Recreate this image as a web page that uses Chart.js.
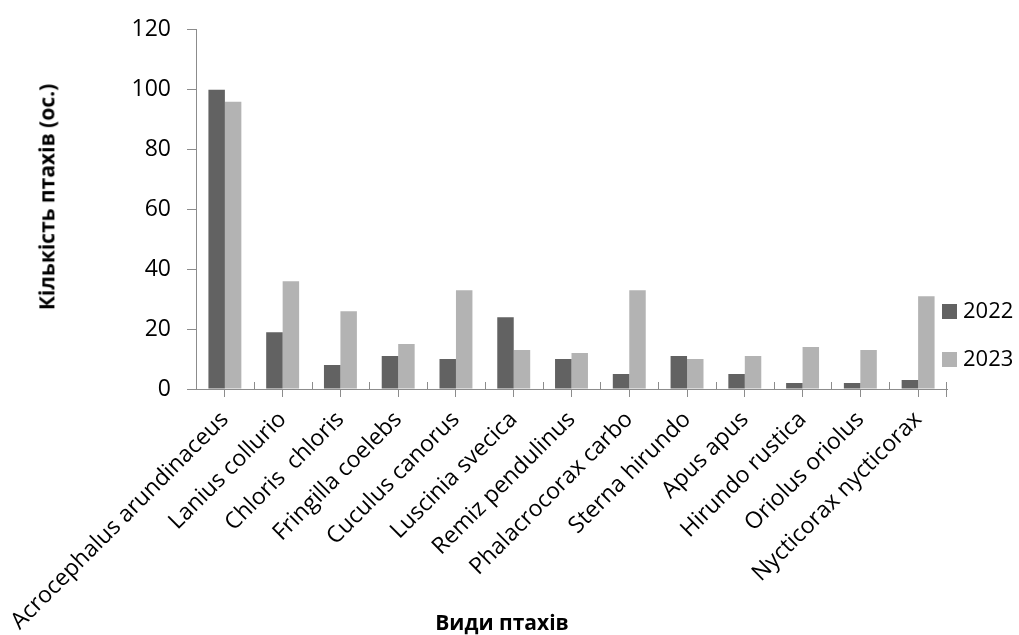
<!DOCTYPE html>
<html>
<head>
<meta charset="utf-8">
<script src="https://cdn.jsdelivr.net/npm/chart.js@4/dist/chart.umd.min.js"></script>
<style>
  body { margin: 0; background: #fff; font-family: "Open Sans", sans-serif; }
  #wrap { position: relative; width: 1019px; height: 635px; }
  #xTitle { position: absolute; left: 502px; top: 608px; transform: translateX(-50%);
    font-weight: bold; font-size: 21px; color: #000; white-space: nowrap; }
  #yTitle { position: absolute; left: 47px; top: 197px; transform: translate(-50%, -50%) rotate(-90deg);
    font-weight: bold; font-size: 21px; color: #000; white-space: nowrap; line-height: 1.2; }
  .leg { position: absolute; left: 942px; font-size: 22px; color: #000; line-height: 1; }
  .leg span { display: inline-block; width: 15px; height: 15px; margin-right: 6px; vertical-align: -1px; }
</style>
</head>
<body>
<div id="wrap">
  <canvas id="birdChart" width="1019" height="635"></canvas>
  <div id="xTitle">Види птахів</div>
  <div id="yTitle">Кількість птахів (ос.)</div>
  <div class="leg" id="leg0" style="top:298px"></div>
  <div class="leg" id="leg1" style="top:346px"></div>
</div>
<script>
const species = [
  'Acrocephalus arundinaceus', 'Lanius collurio', 'Chloris  chloris', 'Fringilla coelebs',
  'Cuculus canorus', 'Luscinia svecica', 'Remiz pendulinus', 'Phalacrocorax carbo',
  'Sterna hirundo', 'Apus apus', 'Hirundo rustica', 'Oriolus oriolus', 'Nycticorax nycticorax'
];
const years = ['2022', '2023'];
const count2022 = [100, 19, 8, 11, 10, 24, 10, 5, 11, 5, 2, 2, 3];
const count2023 = [96, 36, 26, 15, 33, 13, 12, 33, 10, 11, 14, 13, 31];
const colors = ['#626262', '#b3b3b3'];

// легенда справа
years.forEach((y, i) => {
  document.getElementById('leg' + i).innerHTML = `<span style="background:${colors[i]}"></span>${y}`;
});

// короткі риски між категоріями (над віссю), як в Excel
const boundaryTicks = {
  id: 'boundaryTicks',
  afterDatasetsDraw(chart) {
    const x = chart.scales.x;
    const c = chart.ctx;
    const bottom = chart.chartArea.bottom;
    c.save();
    c.strokeStyle = '#8c8c8c';
    c.lineWidth = 1;
    c.beginPath();
    for (let i = 1; i < species.length; i++) {
      const px = Math.round((x.getPixelForTick(i - 1) + x.getPixelForTick(i)) / 2) + 0.5;
      c.moveTo(px, bottom - 7);
      c.lineTo(px, bottom);
    }
    const r = Math.round(chart.chartArea.right) - 0.5;
    c.moveTo(r, bottom - 7);
    c.lineTo(r, bottom + 8);
    c.stroke();
    c.restore();
  }
};

const ctx = document.getElementById('birdChart').getContext('2d');
new Chart(ctx, {
  type: 'bar',
  data: {
    labels: species,
    datasets: [
      { label: years[0], data: count2022, backgroundColor: colors[0] },
      { label: years[1], data: count2023, backgroundColor: colors[1] }
    ]
  },
  options: {
    responsive: false,
    animation: false,
    layout: { padding: { left: 0, top: 24, right: 72, bottom: 0 } },
    datasets: { bar: { categoryPercentage: 0.57, barPercentage: 1.0 } },
    plugins: { legend: { display: false }, tooltip: { enabled: false } },
    scales: {
      x: {
        grid: { offset: false, drawOnChartArea: false, tickLength: 8, color: '#8c8c8c' },
        border: { color: '#8c8c8c', width: 1 },
        ticks: {
          minRotation: 45, maxRotation: 45, autoSkip: false, padding: 9,
          color: '#000', font: { family: 'Open Sans', size: 23 }
        },
        afterFit: (scale) => { scale.height = 246; scale.paddingLeft = 0; scale.paddingRight = 0; }
      },
      y: {
        min: 0, max: 120,
        grid: { drawOnChartArea: false, tickLength: 9, color: '#8c8c8c' },
        border: { color: '#8c8c8c', width: 1 },
        ticks: { stepSize: 20, padding: 16, color: '#000', font: { family: 'Open Sans', size: 23 } },
        afterFit: (scale) => { scale.width = 196; }
      }
    }
  },
  plugins: [boundaryTicks]
});
</script>
</body>
</html>
